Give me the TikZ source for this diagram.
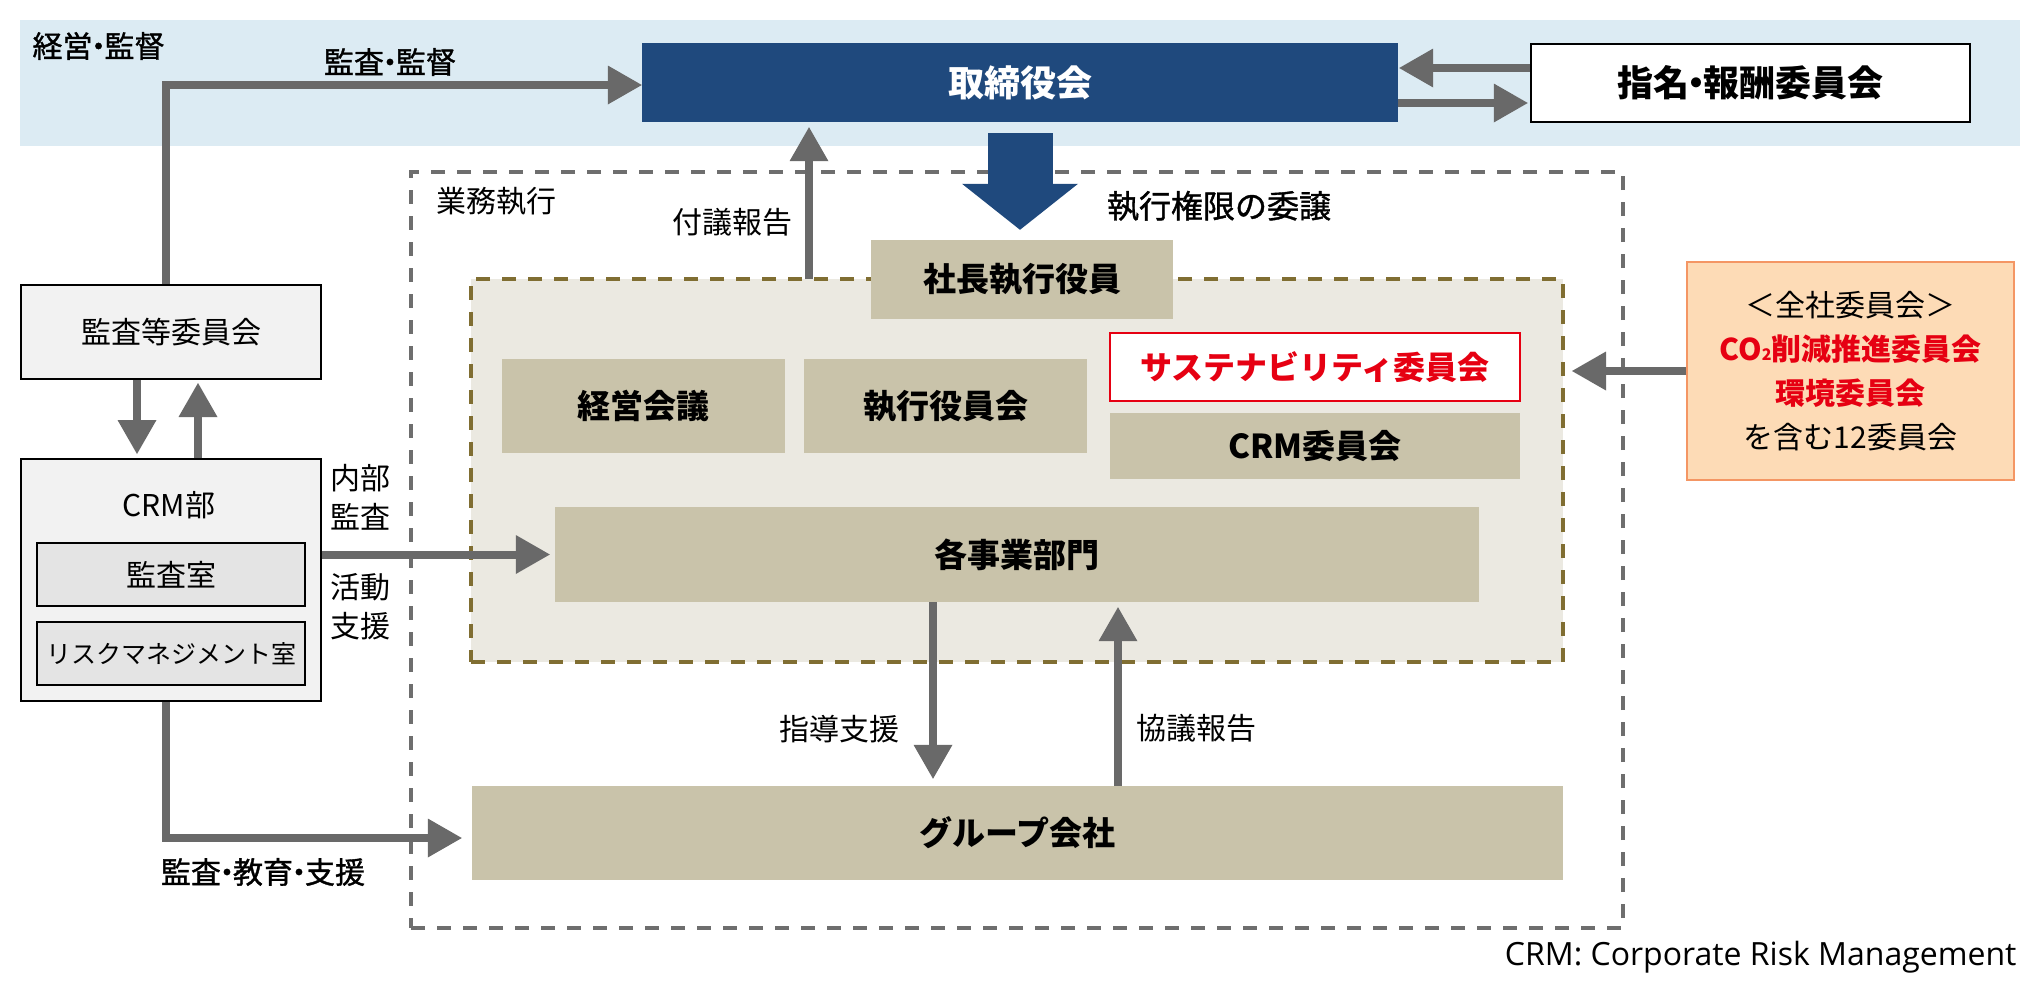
\documentclass[tikz,border=0pt]{standalone}
\usepackage{fontspec}
\setmainfont{Noto Sans CJK JP}
\newfontfamily\jpmed{Noto Sans CJK JP}[FakeBold=1.2]
\newfontfamily\latinfont{Open Sans}
\usetikzlibrary{arrows.meta}
\definecolor{bandblue}{RGB}{220,235,243}
\definecolor{boardblue}{RGB}{31,73,125}
\definecolor{arrowgray}{RGB}{105,105,105}
\definecolor{beige}{RGB}{201,195,170}
\definecolor{innerfill}{RGB}{235,233,225}
\definecolor{olive}{RGB}{128,110,50}
\definecolor{dashgray}{RGB}{110,110,110}
\definecolor{boxgray}{RGB}{242,242,242}
\definecolor{subgray}{RGB}{228,228,228}
\definecolor{jred}{RGB}{230,0,18}
\definecolor{orfill}{RGB}{253,219,182}
\definecolor{orline}{RGB}{244,150,100}
\newcommand{\jdot}{\kern-0.3em・\kern-0.3em}
\begin{document}
\begin{tikzpicture}[x=1pt,y=-1pt,
  txtN/.style={font=\fontsize{30}{39}\selectfont},
  txtM/.style={font=\fontsize{30}{39}\selectfont\jpmed},
  txtB/.style={font=\fontsize{33}{40}\selectfont\bfseries},
  beigebox/.style={fill=beige, inner sep=0pt, txtB},
  graybox/.style={draw=black, line width=2pt, fill=boxgray, inner sep=0pt, txtN},
  subbox/.style={draw=black, line width=2pt, fill=subgray, inner sep=0pt, minimum width=268pt, minimum height=63pt},
  dashbox/.style={line width=4pt, dash pattern=on 14pt off 12pt, inner sep=0pt},
  garrow/.style={draw=arrowgray, line width=8pt, -{Triangle[length=34pt,width=39pt,line width=0pt]}},
  bigarrow/.style={draw=boardblue, line width=65pt, -{Triangle[length=46pt,width=116pt,line width=0pt]}}
]
\useasboundingbox (0,0) rectangle (2040,994);
\node (band) [fill=bandblue, inner sep=0pt, minimum width=2000pt, minimum height=126pt] at (1020,83) {};
\node (outer) [dashbox, draw=dashgray, minimum width=1212pt, minimum height=756pt] at (1017,550) {};
\node (inner) [dashbox, draw=olive, fill=innerfill, minimum width=1092pt, minimum height=383pt] at (1017,470.5) {};

\node (board) [fill=boardblue, inner sep=0pt, minimum width=756pt, minimum height=79pt, text=white, font=\fontsize{36}{40}\selectfont\bfseries] at (1020,82.5) {取締役会};
\node (nom) [draw=black, line width=2.5pt, fill=white, inner sep=0pt, minimum width=439pt, minimum height=78pt, font=\fontsize{36}{40}\selectfont\bfseries] at (1750.5,83) {指名\jdot 報酬委員会};

\node (kansa) [graybox, minimum width=300pt, minimum height=94pt] at (171,332) {監査等委員会};
\node (crm) [graybox, minimum width=300pt, minimum height=242pt] at (171,580) {};
\node (crmlbl) [txtN] at (169,505) {CRM部};
\node (kshitsu) [subbox, txtN] at (171,574.5) {監査室};
\node (risk) [subbox, font=\fontsize{25}{30}\selectfont] at (171,653.5) {リスクマネジメント室};

\node (shacho) [beigebox, minimum width=302pt, minimum height=79pt] at (1022,279.5) {社長執行役員};
\node (keiei) [beigebox, minimum width=283pt, minimum height=94pt] at (643.5,406) {経営会議};
\node (shikkou) [beigebox, minimum width=283pt, minimum height=94pt] at (945.5,406) {執行役員会};
\node (sus) [fill=white, draw=jred, line width=2pt, inner sep=0pt, minimum width=410pt, minimum height=68pt, text=jred, font=\fontsize{32}{40}\selectfont\bfseries] at (1315,367) {サステナビリティ委員会};
\node (crmc) [beigebox, minimum width=410pt, minimum height=66pt] at (1315,446) {CRM委員会};
\node (jigyo) [beigebox, minimum width=924pt, minimum height=95pt] at (1017,554.5) {各事業部門};
\node (group) [beigebox, minimum width=1091pt, minimum height=94pt] at (1017.5,833) {グループ会社};
\node (orange) [fill=orfill, draw=orline, line width=1.5pt, inner sep=0pt, minimum width=327pt, minimum height=218pt, align=center, font=\fontsize{30}{44}\selectfont] at (1850.5,371) {＜全社委員会＞\\{\color{jred}\bfseries CO{\fontsize{16}{16}\selectfont 2}削減推進委員会}\\{\color{jred}\bfseries 環境委員会}\\を含む12委員会};

\node (lblkeiei) [txtM, anchor=west] at (29,46) {経営\jdot 監督};
\node (lblkansa) [txtM] at (390,62) {監査\jdot 監督};
\node (lblgyomu) [txtN, anchor=west] at (433,201) {業務執行};
\node (lblfugi) [txtN] at (732,222) {付議報告};
\node (lblinin) [font=\fontsize{32}{39}\selectfont\jpmed] at (1219,206) {執行権限の委譲};
\node (lblnaibu) [txtN, align=center] at (360,497.5) {内部\\監査};
\node (lblkatsudo) [txtN, align=center] at (360,606.5) {活動\\支援};
\node (lblshido) [txtN] at (839,729) {指導支援};
\node (lblkyogi) [txtN] at (1196,728) {協議報告};
\node (lblkyoiku) [txtM] at (263,872) {監査\jdot 教育\jdot 支援};
\node (foot) [anchor=east, font=\fontsize{32}{38}\selectfont\latinfont] at (2020,957) {CRM: Corporate Risk Management};

\draw[garrow] ([xshift=-5pt]kansa.north) |- ([yshift=-2.5pt]board.west);
\draw[garrow, shorten >=1pt] ([yshift=15pt]nom.west) -- ([yshift=15pt]nom.west -| board.east);
\draw[garrow, shorten >=2pt] ([yshift=-20.5pt]board.east) -- ([yshift=-20.5pt]board.east -| nom.west);
\coordinate (fugi) at (809,279);
\draw[garrow, shorten >=5pt] (fugi) -- (fugi |- board.south);
\draw[bigarrow, shorten <=11pt, shorten >=10pt] (board.south) -- (board.south |- shacho.north);
\draw[garrow, shorten >=4pt] ([xshift=-34pt]kansa.south) -- ([xshift=-34pt]kansa.south |- crm.north);
\draw[garrow, shorten >=3pt] ([xshift=27pt]crm.north) -- ([xshift=27pt]crm.north |- kansa.south);
\draw[garrow, shorten >=5pt] (crm.east |- jigyo.west) -- (jigyo.west);
\draw[garrow, shorten >=10pt] ([xshift=-5pt]crm.south) |- ([yshift=-5pt]group.west);
\draw[garrow, shorten >=7pt] ([xshift=-84pt]jigyo.south) -- ([xshift=-84pt]jigyo.south |- group.north);
\draw[garrow, shorten >=5pt] ([xshift=100.5pt]group.north) -- ([xshift=100.5pt]group.north |- jigyo.south);
\draw[garrow, shorten >=7pt] (orange.west) -- (orange.west -| inner.east);
\end{tikzpicture}
\end{document}
